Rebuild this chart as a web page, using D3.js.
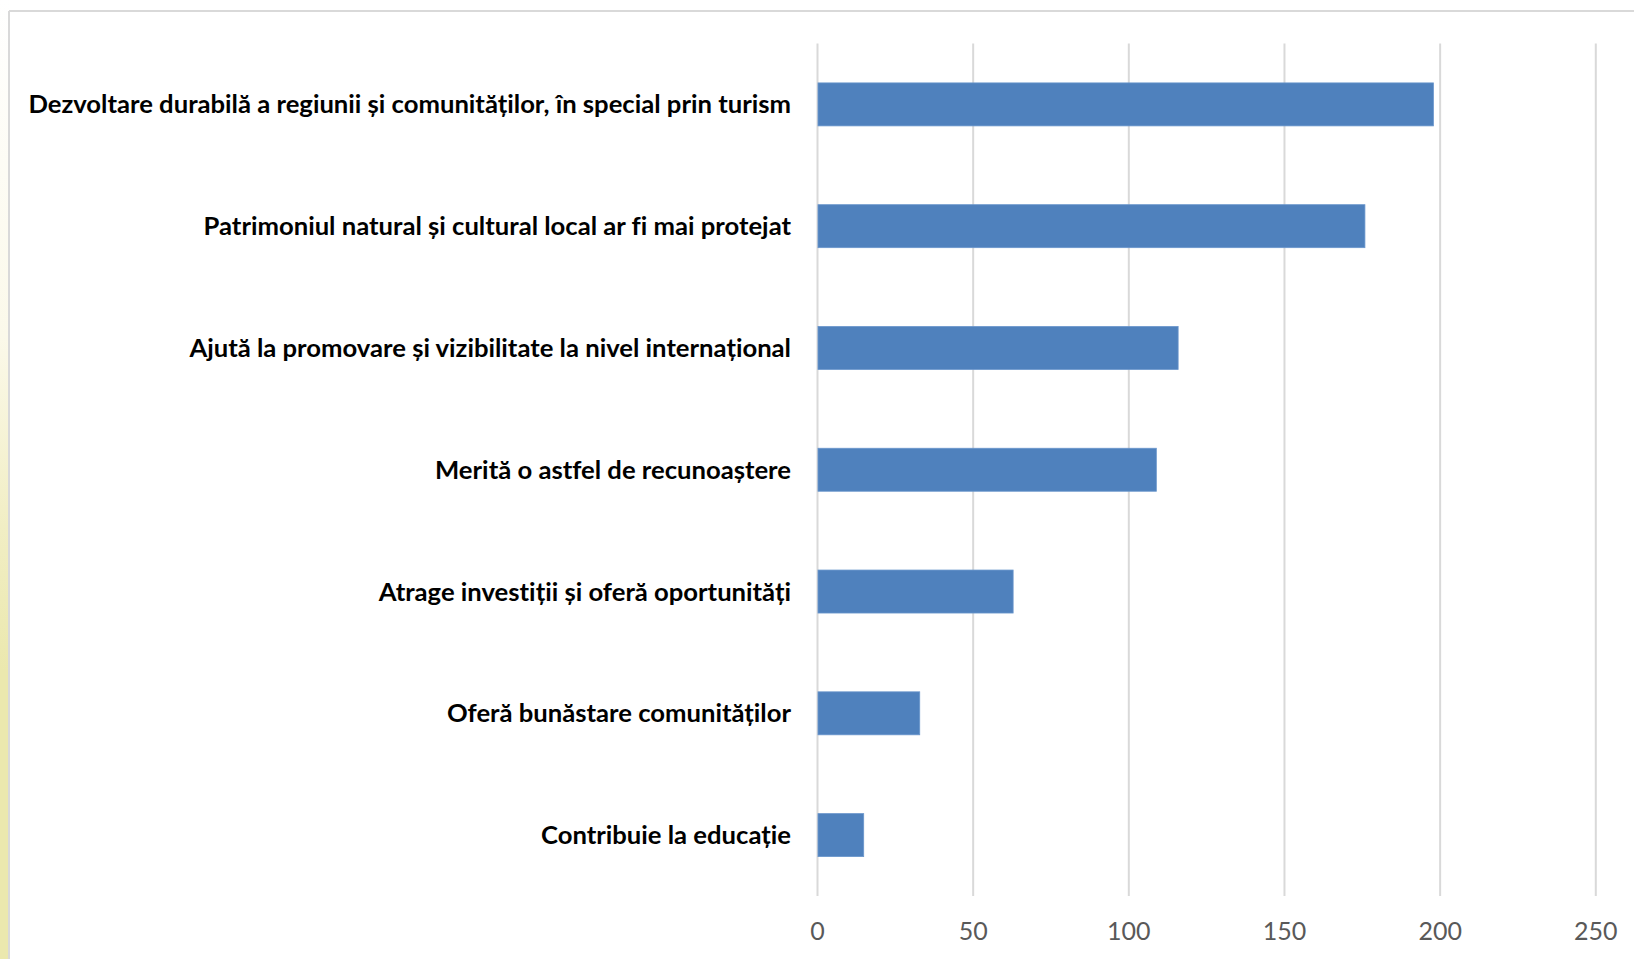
<!DOCTYPE html>
<html>
<head>
<meta charset="utf-8">
<script src="https://cdn.jsdelivr.net/npm/d3@7/dist/d3.min.js"></script>
<style>
  html, body { margin: 0; padding: 0; background: #fff; }
  svg { display: block; }
  text { font-variant-ligatures: none; font-feature-settings: "liga" 0; }
</style>
</head>
<body>
<svg id="chart" width="1634" height="959"></svg>
<script>
const categories = [
  "Dezvoltare durabilă a regiunii și comunităților, în special prin turism",
  "Patrimoniul natural și cultural local ar fi mai protejat",
  "Ajută la promovare și vizibilitate la nivel internațional",
  "Merită o astfel de recunoaștere",
  "Atrage investiții și oferă oportunități",
  "Oferă bunăstare comunităților",
  "Contribuie la educație"
];
const values = [198, 176, 116, 109, 63, 33, 15];
const tickValues = [0, 50, 100, 150, 200, 250];

const W = 1634, H = 959;
const svg = d3.select("#chart");

// left decorative strip
const defs = svg.append("defs");
const grad = defs.append("linearGradient").attr("id", "strip").attr("x1", 0).attr("y1", 0).attr("x2", 0).attr("y2", 1);
grad.append("stop").attr("offset", "0%").attr("stop-color", "#ffffff");
grad.append("stop").attr("offset", "35%").attr("stop-color", "#fbf9ea");
grad.append("stop").attr("offset", "55%").attr("stop-color", "#f1eec4");
grad.append("stop").attr("offset", "70%").attr("stop-color", "#ebe8ae");
grad.append("stop").attr("offset", "100%").attr("stop-color", "#ebe8ae");
svg.append("rect").attr("x", 0).attr("y", 0).attr("width", 9).attr("height", H).attr("fill", "url(#strip)");

// frame
svg.append("line").attr("x1", 9).attr("x2", 9).attr("y1", 11).attr("y2", H).attr("stroke", "#d9d9d9").attr("stroke-width", 2);
svg.append("line").attr("x1", 9).attr("x2", W).attr("y1", 11).attr("y2", 11).attr("stroke", "#d9d9d9").attr("stroke-width", 2);

const x0 = 817, x1 = 1595.3;
const yTop = 43.5, yBot = 896;

const x = d3.scaleLinear().domain([0, 250]).range([x0, x1]);
const y = d3.scaleBand().domain(categories).range([yTop, yBot]).paddingInner(0.647).paddingOuter(0.3235);

// gridlines
const grid = svg.append("g").attr("transform", `translate(0,${yBot})`)
  .call(d3.axisBottom(x).tickValues(tickValues).tickSize(-(yBot - yTop)).tickFormat(""));
grid.select(".domain").remove();
grid.selectAll("line").attr("stroke", "#d9d9d9").attr("stroke-width", 2);

// tick labels
const ax = svg.append("g").attr("transform", `translate(0,931)`)
  .call(d3.axisBottom(x).tickValues(tickValues).tickSize(0).tickPadding(0));
ax.select(".domain").remove();
ax.selectAll("text")
  .attr("dy", "0.35em")
  .attr("font-family", "Lato, 'Open Sans', sans-serif")
  .attr("font-size", 25)
  .attr("fill", "#595959");

// bars
svg.append("g").selectAll("rect").data(values).join("rect")
  .attr("x", x(0) + 1)
  .attr("y", (d, i) => y(categories[i]))
  .attr("width", d => x(d) - x(0) - 1)
  .attr("height", y.bandwidth())
  .attr("fill", "#4f81bd")
  .attr("stroke", "#6a96cc")
  .attr("stroke-width", 0.8);

// category labels
const labels = svg.append("g").selectAll("text").data(categories).join("text")
  .attr("x", 791)
  .attr("y", d => y(d) + y.bandwidth() / 2)
  .attr("dy", "0.35em")
  .attr("text-anchor", "end")
  .attr("font-family", "Lato, 'Open Sans', sans-serif")
  .attr("font-weight", "bold")
  .attr("font-size", 24)
  .attr("fill", "#000")
  .text(d => d);

// fit font size so the longest label spans the reference width
const longest = labels.nodes()[0].getComputedTextLength();
const fs = 24 * 763 / longest;
labels.attr("font-size", fs);
</script>
</body>
</html>
